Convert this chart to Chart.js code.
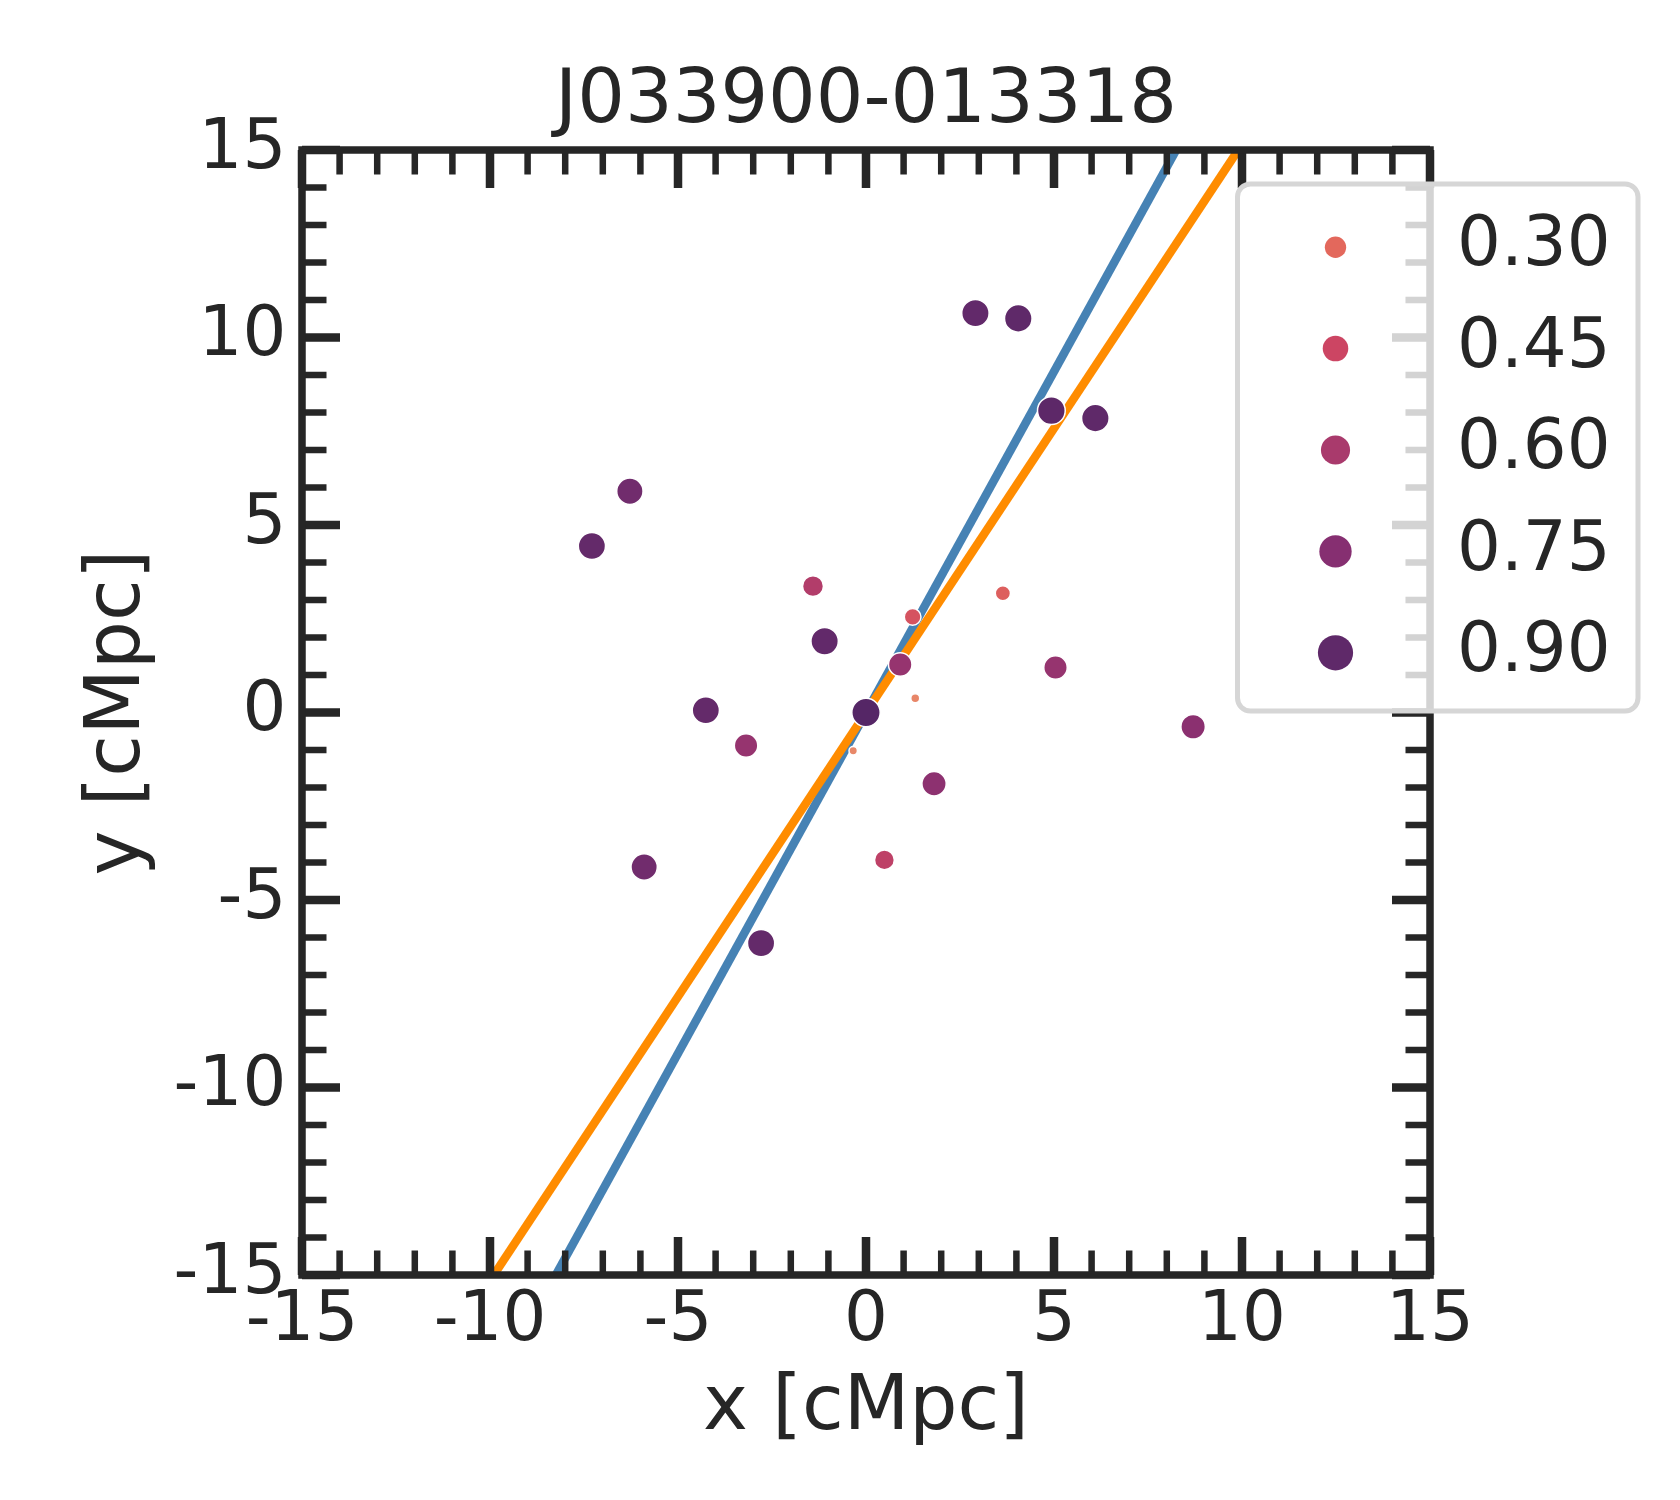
<!DOCTYPE html>
<html>
<head>
<meta charset="utf-8">
<script src="https://cdn.jsdelivr.net/npm/chart.js@4.4.1/dist/chart.umd.min.js"></script>
<style>
html,body{margin:0;padding:0;background:#ffffff;overflow:hidden;}
#wrap{width:1680px;height:1500px;position:relative;}
canvas{display:block;}
</style>
</head>
<body>
<div id="wrap"><canvas id="c" width="1680" height="1500"></canvas></div>
<script>
// ---------------- data ----------------
const titleText = 'J033900-013318';
const xAxisLabel = 'x [cMpc]';
const yAxisLabel = 'y [cMpc]';

const pointX   = [-6.28, -7.29, -1.41, 1.24, -1.10, 0.91, 1.31, -4.26, 0.00, -3.19, -0.34, 1.81, 0.49, -5.90, -2.79, 3.64, 5.04, 8.70, 2.91, 4.05, 4.93, 6.10];
const pointY   = [ 5.90,  4.44,  3.37, 2.55,  1.90, 1.28, 0.38,  0.06, 0.00, -0.88, -1.02, -1.90, -3.93, -4.12, -6.15, 3.18, 1.20, -0.38, 10.65, 10.51, 8.05, 7.85];
const pointVal = [ 0.83,  0.88,  0.56, 0.39,  0.89, 0.68, 0.18,  0.88, 0.95,  0.68,  0.17,  0.72,  0.51,  0.83,  0.88, 0.34, 0.68, 0.73, 0.89, 0.90, 0.91, 0.90];

const blueLineX   = [-8.25, 8.25];
const blueLineY   = [-15, 15];
const orangeLineX = [-9.9, 9.9];
const orangeLineY = [-15, 15];

const legendVals   = [0.30, 0.45, 0.60, 0.75, 0.90];
const legendLabels = ['0.30', '0.45', '0.60', '0.75', '0.90'];

const axisMin = -15, axisMax = 15, majorStep = 5, minorStep = 1;

// ---------------- styling helpers ----------------
const FONT = '"DejaVu Sans", "Liberation Sans", sans-serif';
const INK = '#262626';
const colorStopVals = [0.15, 0.30, 0.45, 0.60, 0.75, 0.90, 1.00];
const colorStopHex  = ['#e98d6b', '#e3685c', '#cc4563', '#a93a6c', '#862f71', '#5f2969', '#4b2362'];

function hexToRgb(h){ return [parseInt(h.slice(1,3),16), parseInt(h.slice(3,5),16), parseInt(h.slice(5,7),16)]; }
function colorFor(v){
  if (v <= colorStopVals[0]) return colorStopHex[0];
  for (let i = 1; i < colorStopVals.length; i++) {
    if (v <= colorStopVals[i]) {
      const t = (v - colorStopVals[i-1]) / (colorStopVals[i] - colorStopVals[i-1]);
      const a = hexToRgb(colorStopHex[i-1]), b = hexToRgb(colorStopHex[i]);
      const c = a.map((ai, k) => Math.round(ai + (b[k] - ai) * t));
      return 'rgb(' + c.join(',') + ')';
    }
  }
  return colorStopHex[colorStopHex.length - 1];
}
function plotRadius(v){ return Math.sqrt(Math.max(236 * v - 22.4, 9)); }
function legendRadius(v){ return Math.sqrt(16 + 327 * v); }

const scatterData = pointX.map((x, i) => ({x: x, y: pointY[i]}));
const blueData = blueLineX.map((x, i) => ({x: x, y: blueLineY[i]}));
const orangeData = orangeLineX.map((x, i) => ({x: x, y: orangeLineY[i]}));

// ---------------- plugins ----------------
const frameTicks = {
  id: 'frameTicks',
  afterDatasetsDraw(chart) {
    const {ctx, chartArea: a, scales: {x, y}} = chart;
    ctx.save();
    ctx.strokeStyle = INK;
    ctx.lineCap = 'butt';
    for (let v = axisMin; v <= axisMax; v += minorStep) {
      const major = (v % majorStep === 0);
      const len = major ? 38 : 24.5;
      ctx.lineWidth = major ? 8.5 : 6.5;
      const px = x.getPixelForValue(v);
      const py = y.getPixelForValue(v);
      ctx.beginPath();
      ctx.moveTo(px, a.bottom); ctx.lineTo(px, a.bottom - len);
      ctx.moveTo(px, a.top);    ctx.lineTo(px, a.top + len);
      ctx.moveTo(a.left, py);   ctx.lineTo(a.left + len, py);
      ctx.moveTo(a.right, py);  ctx.lineTo(a.right - len, py);
      ctx.stroke();
    }
    ctx.lineWidth = 7.5;
    ctx.lineJoin = 'miter';
    ctx.strokeRect(a.left, a.top, a.right - a.left, a.bottom - a.top);
    ctx.restore();
  }
};

function roundRectPath(ctx, x, y, w, h, r){
  ctx.beginPath();
  ctx.moveTo(x + r, y);
  ctx.lineTo(x + w - r, y);
  ctx.arcTo(x + w, y, x + w, y + r, r);
  ctx.lineTo(x + w, y + h - r);
  ctx.arcTo(x + w, y + h, x + w - r, y + h, r);
  ctx.lineTo(x + r, y + h);
  ctx.arcTo(x, y + h, x, y + h - r, r);
  ctx.lineTo(x, y + r);
  ctx.arcTo(x, y, x + r, y, r);
  ctx.closePath();
}

const sizeLegend = {
  id: 'sizeLegend',
  afterDraw(chart) {
    const ctx = chart.ctx;
    const L = 1237.5, T = 184, R = 1638, B = 711;
    ctx.save();
    roundRectPath(ctx, L, T, R - L, B - T, 13);
    ctx.fillStyle = 'rgba(255,255,255,0.8)';
    ctx.fill();
    ctx.lineWidth = 5;
    ctx.strokeStyle = '#d6d6d6';
    ctx.stroke();
    ctx.font = '69px ' + FONT;
    ctx.textAlign = 'left';
    ctx.textBaseline = 'alphabetic';
    legendVals.forEach((v, i) => {
      const cy = 247.2 + i * 101.4;
      ctx.beginPath();
      ctx.arc(1335.5, cy, legendRadius(v), 0, Math.PI * 2);
      ctx.fillStyle = colorFor(v);
      ctx.fill();
      ctx.fillStyle = INK;
      ctx.fillText(legendLabels[i], 1457, cy + 18.2);
    });
    ctx.restore();
  }
};

// ---------------- chart ----------------
new Chart(document.getElementById('c'), {
  type: 'scatter',
  data: {
    datasets: [
      {
        label: 'galaxies',
        data: scatterData,
        order: 0,
        pointRadius: pointVal.map(plotRadius),
        pointBackgroundColor: pointVal.map(colorFor),
        pointBorderColor: '#ffffff',
        pointBorderWidth: 1.5,
        pointHoverRadius: pointVal.map(plotRadius)
      },
      {
        label: 'blue',
        type: 'line',
        data: blueData,
        order: 2,
        borderColor: '#4682b4',
        borderWidth: 8.5,
        pointRadius: 0,
        fill: false,
        tension: 0
      },
      {
        label: 'orange',
        type: 'line',
        data: orangeData,
        order: 1,
        borderColor: '#ff8c00',
        borderWidth: 8.5,
        pointRadius: 0,
        fill: false,
        tension: 0
      }
    ]
  },
  options: {
    responsive: false,
    animation: false,
    devicePixelRatio: 1,
    events: [],
    layout: { padding: { left: 0, right: 250, top: 0, bottom: 0 } },
    plugins: {
      legend: { display: false },
      tooltip: { enabled: false },
      title: {
        display: true,
        text: titleText,
        fullSize: false,
        color: INK,
        font: { family: FONT, size: 75, weight: 'normal', lineHeight: 1 },
        padding: { top: 65.5, bottom: 9.5 }
      }
    },
    scales: {
      x: {
        type: 'linear',
        position: 'bottom',
        min: axisMin, max: axisMax,
        grid: { display: false, drawTicks: false, tickLength: 0 },
        border: { display: false },
        ticks: {
          stepSize: majorStep,
          autoSkip: false,
          maxRotation: 0, minRotation: 0,
          padding: 6,
          color: INK,
          font: { family: FONT, size: 69, weight: 'normal', lineHeight: 1.2 },
          callback: (v) => String(v)
        },
        title: {
          display: true,
          text: xAxisLabel,
          color: INK,
          font: { family: FONT, size: 76, weight: 'normal', lineHeight: 1.2 },
          padding: { top: 0, bottom: 44.7 }
        },
        afterFit: (s) => { s.height = 225; }
      },
      y: {
        type: 'linear',
        position: 'left',
        min: axisMin, max: axisMax,
        grid: { display: false, drawTicks: false, tickLength: 0 },
        border: { display: false },
        ticks: {
          stepSize: majorStep,
          autoSkip: false,
          padding: 15.7,
          color: INK,
          font: { family: FONT, size: 69, weight: 'normal', lineHeight: 1.2 },
          callback: (v) => String(v)
        },
        title: {
          display: true,
          text: yAxisLabel,
          color: INK,
          font: { family: FONT, size: 76, weight: 'normal', lineHeight: 1.2 },
          padding: { top: 73.5, bottom: 0 }
        },
        afterFit: (s) => { s.width = 302; }
      }
    }
  },
  plugins: [frameTicks, sizeLegend]
});
</script>
</body>
</html>
